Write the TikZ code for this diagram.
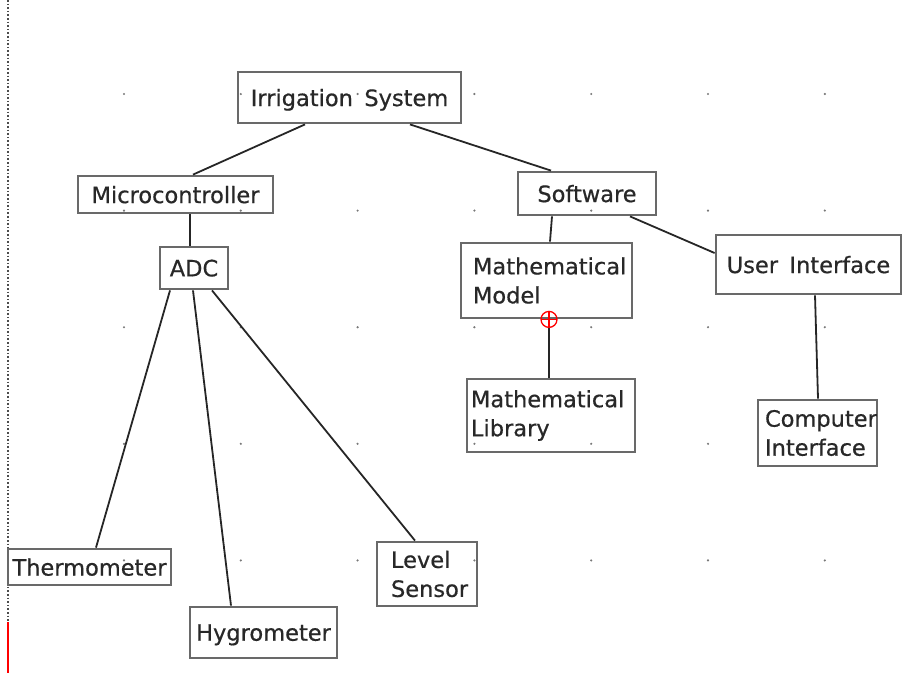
\documentclass[tikz,border=0pt]{standalone}
\usepackage{fontspec}
\setmainfont[FakeBold=0.6,WordSpace=1.6]{DejaVu Sans}
\definecolor{boxgray}{RGB}{105,105,105}
\definecolor{txtgray}{RGB}{40,40,40}
\definecolor{dotgray}{RGB}{120,120,120}
\tikzset{
  blk/.style={draw=boxgray, line width=2.8pt, text=txtgray, inner sep=0pt,
    text depth=0pt, font=\fontsize{22.5}{29}\selectfont},
  twoline/.style={align=left, text depth=},
  lnk/.style={draw=black!85, line width=1.8pt},
}
\begin{document}
\begin{tikzpicture}[x=1pt,y=-1pt]
    \useasboundingbox (0,0) rectangle (904,673);
    %% Grid dots
    \foreach \i in {0,...,6}
      \foreach \j in {0,...,4}
        \fill[dotgray] (124+116.8*\i,94+116.6*\j) circle (1.2pt);
    %% Left margin
    \draw[dotted,line width=1.6pt,black!70] (8,0) -- (8,622);
    \draw[red,line width=1.6pt] (8,622) -- (8,673);
    %% Top level
    \node[blk,minimum width=223pt,minimum height=51pt] (irr) at (349.5,97.5) {Irrigation System};
    %% Hardware branch
    \node[blk,minimum width=195pt,minimum height=37pt] (mcu) at (175.5,194.5) {Microcontroller};
    \node[blk,minimum width=68pt,minimum height=42pt] (adc) at (194,268) {ADC};
    \node[blk,minimum width=163pt,minimum height=36pt] (thermo) at (89.5,567) {Thermometer};
    \node[blk,minimum width=147pt,minimum height=51pt] (hygro) at (263.5,632.5) {Hygrometer};
    \node[blk,twoline,inner xsep=14pt,text width=72pt,minimum height=64pt] (level) at (427,574) {Level\\Sensor};
    %% Software branch
    \node[blk,minimum width=138pt,minimum height=43pt] (soft) at (587,193.5) {Software};
    \node[blk,twoline,inner xsep=12pt,text width=147pt,minimum height=75pt] (model) at (546.5,280.5) {Mathematical\\Model};
    \node[blk,twoline,inner xsep=4pt,text width=160pt,minimum height=73pt] (lib) at (551,415.5) {Mathematical\\Library};
    \node[blk,minimum width=185pt,minimum height=59pt] (ui) at (808.5,264.5) {User Interface};
    \node[blk,twoline,inner xsep=7pt,text width=105pt,minimum height=66pt] (comp) at (817.5,433) {Computer\\Interface};
    %% Connectors
    \draw[lnk] ([xshift=-44.5pt]irr.south) -- ([xshift=17.5pt]mcu.north);
    \draw[lnk] ([xshift=60.5pt]irr.south) -- ([xshift=-36pt]soft.north);
    \draw[lnk] ([xshift=14.5pt]mcu.south) -- ([xshift=-4pt]adc.north);
    \draw[lnk] ([xshift=-24pt]adc.south) -- ([xshift=6.5pt]thermo.north);
    \draw[lnk] ([xshift=-1pt]adc.south) -- ([xshift=-32.5pt]hygro.north);
    \draw[lnk] ([xshift=18pt]adc.south) -- ([xshift=-12pt]level.north);
    \draw[lnk] ([xshift=-35pt]soft.south) -- ([xshift=3.5pt]model.north);
    \draw[lnk] ([xshift=43pt]soft.south) -- ([yshift=11.5pt]ui.west);
    \draw[lnk] ([xshift=2.5pt]model.south) -- ([xshift=-2pt]lib.north);
    \draw[lnk] ([xshift=6.5pt]ui.south) -- ([xshift=0.5pt]comp.north);
    %% Marker
    \coordinate (mark) at ([xshift=2.5pt]model.south);
    \draw[red,line width=1.3pt] (mark) circle (8pt);
    \draw[red,line width=1.3pt] ([xshift=-8pt]mark) -- ([xshift=8pt]mark)
        ([yshift=-8pt]mark) -- ([yshift=8pt]mark);
\end{tikzpicture}
\end{document}
